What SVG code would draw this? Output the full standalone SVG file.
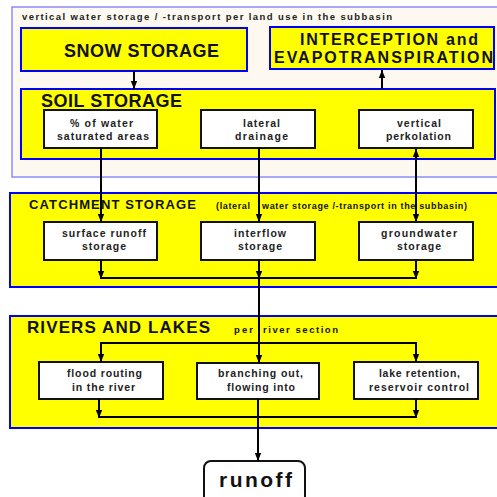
<svg xmlns="http://www.w3.org/2000/svg" width="497" height="497" viewBox="0 0 497 497">
<defs>
<marker id="ah" viewBox="0 0 10 10" refX="10" refY="5" markerWidth="5" markerHeight="4" orient="auto" markerUnits="strokeWidth">
<path d="M0,1 L10,5 L0,9 z" fill="#000"/>
</marker>
<style>
.outer{fill:#fdf9f0;stroke:#8c8cff;stroke-width:1.5}
.yb{fill:#ffff00;stroke:#0000ff;stroke-width:2}
.wb{fill:#fff;stroke:#111;stroke-width:2}
.t{font-family:"Liberation Sans",Arial,sans-serif;font-weight:bold;fill:#111}
.big{font-size:18px}
.mid{font-size:16px}
.sm{font-size:10.5px;fill:#222}
.xs{font-size:9.5px;fill:#222}
.c{stroke:#000;stroke-width:2;fill:none}
.a{marker-end:url(#ah)}
</style>
</defs>
<rect width="497" height="497" fill="#fff"/>

<g id="landuse">
<rect class="outer" x="12" y="7" width="492" height="170"/>
<text class="t xs" x="22" y="19.5" textLength="370">vertical water storage / -transport per land use in the subbasin</text>
</g>

<g id="snow">
<rect class="yb" x="21" y="28" width="226" height="43"/>
<text class="t big" x="64" y="57" textLength="155">SNOW STORAGE</text>
</g>

<g id="interception">
<rect class="yb" x="270" y="27" width="224" height="42"/>
<text class="t mid" x="300" y="45" textLength="178">INTERCEPTION and</text>
<text class="t mid" x="274" y="63" textLength="219">EVAPOTRANSPIRATION</text>
</g>

<g id="soil">
<rect class="yb" x="21" y="89" width="474" height="70"/>
<text class="t big" x="41" y="107" textLength="141">SOIL STORAGE</text>
</g>

<g id="saturated">
<rect class="wb" x="44" y="110" width="113" height="38"/>
<text class="t sm" x="70" y="127" textLength="63">% of water</text>
<text class="t sm" x="57" y="140" textLength="92">saturated areas</text>
</g>

<g id="lateral">
<rect class="wb" x="201" y="110" width="114" height="38"/>
<text class="t sm" x="243" y="127" textLength="37">lateral</text>
<text class="t sm" x="235" y="140" textLength="53">drainage</text>
</g>

<g id="vertical">
<rect class="wb" x="359" y="110" width="114" height="38"/>
<text class="t sm" x="397" y="127" textLength="44">vertical</text>
<text class="t sm" x="386" y="140" textLength="65">perkolation</text>
</g>

<g id="catchment">
<rect class="yb" x="10" y="193" width="494" height="94"/>
<text class="t" font-size="13" x="29" y="209" textLength="167">CATCHMENT STORAGE</text>
<text class="t" font-size="9" x="216" y="208.5" textLength="34">(lateral</text>
<text class="t" font-size="9" x="262" y="208.5" textLength="205">water storage /-transport in the subbasin)</text>
</g>

<g id="surface">
<rect class="wb" x="44" y="222" width="113" height="38"/>
<text class="t sm" x="62" y="237" textLength="84">surface runoff</text>
<text class="t sm" x="82" y="250" textLength="44">storage</text>
</g>

<g id="interflow">
<rect class="wb" x="201" y="222" width="114" height="38"/>
<text class="t sm" x="234" y="237" textLength="52">interflow</text>
<text class="t sm" x="238" y="250" textLength="44">storage</text>
</g>

<g id="groundwater">
<rect class="wb" x="359" y="222" width="114" height="38"/>
<text class="t sm" x="381" y="237" textLength="76">groundwater</text>
<text class="t sm" x="397" y="250" textLength="44">storage</text>
</g>

<g id="rivers">
<rect class="yb" x="10" y="316" width="494" height="112"/>
<text class="t" font-size="17" x="27" y="333" textLength="183">RIVERS AND LAKES</text>
<text class="t" font-size="9.5" x="234" y="332.5" textLength="19">per</text>
<text class="t" font-size="9.5" x="263" y="332.5" textLength="75">river section</text>
</g>

<g id="flood">
<rect class="wb" x="39" y="362" width="124" height="37"/>
<text class="t sm" x="67" y="377" textLength="75">flood routing</text>
<text class="t sm" x="72" y="390.5" textLength="63">in the river</text>
</g>

<g id="branching">
<rect class="wb" x="197" y="363" width="122" height="36"/>
<text class="t sm" x="218" y="377" textLength="85">branching out,</text>
<text class="t sm" x="227" y="390.5" textLength="68">flowing into</text>
</g>

<g id="lake">
<rect class="wb" x="354" y="362" width="124" height="37"/>
<text class="t sm" x="379" y="377" textLength="81">lake retention,</text>
<text class="t sm" x="369" y="390.5" textLength="100">reservoir control</text>
</g>

<g id="runoff">
<rect x="204" y="461" width="101" height="44" rx="7" fill="#fff" stroke="#111" stroke-width="2"/>
<text class="t" font-size="21" x="219" y="487" textLength="73">runoff</text>
</g>

<g id="connectors">
<line class="c a" x1="134" y1="71" x2="134" y2="89"/>
<line class="c a" x1="382" y1="89" x2="382" y2="70"/>
<line class="c a" x1="101" y1="148" x2="101" y2="222"/>
<line class="c a" x1="259" y1="148" x2="259" y2="222"/>
<line class="c a" x1="416" y1="160" x2="416" y2="222"/>
<line class="c a" x1="416" y1="170" x2="416" y2="149"/>
<line class="c a" x1="101" y1="260" x2="101" y2="279"/>
<line class="c a" x1="259" y1="260" x2="259" y2="279"/>
<line class="c a" x1="416" y1="260" x2="416" y2="279"/>
<line class="c" x1="101" y1="278" x2="416" y2="278"/>
<line class="c a" x1="259" y1="278" x2="259" y2="363"/>
<path class="c" d="M101,350 V343 H416 V350"/>
<line class="c a" x1="101" y1="343" x2="101" y2="362"/>
<line class="c a" x1="416" y1="343" x2="416" y2="362"/>
<line class="c a" x1="99" y1="399" x2="99" y2="418"/>
<line class="c a" x1="416" y1="399" x2="416" y2="418"/>
<line class="c" x1="99" y1="417" x2="416" y2="417"/>
<line class="c a" x1="258" y1="399" x2="258" y2="461"/>
</g>
</svg>
